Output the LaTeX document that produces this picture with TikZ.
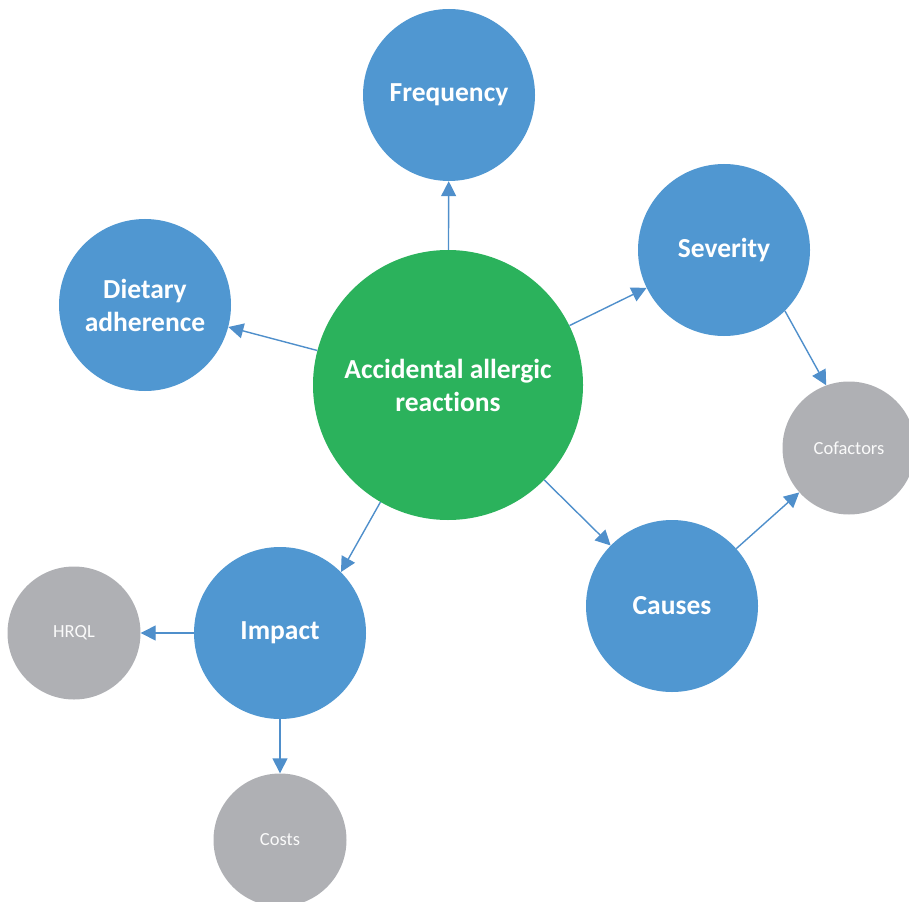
\documentclass[tikz,border=0pt]{standalone}
\usepackage{fontspec}
\setmainfont{Carlito}[Ligatures={NoCommon}]
\usepackage{tikz}
\usetikzlibrary{arrows.meta}

\definecolor{topicblue}{HTML}{5097D1}
\definecolor{maingreen}{HTML}{2BB25C}
\definecolor{detailgray}{HTML}{AFB0B4}
\definecolor{linkblue}{HTML}{4F8FCB}

\begin{document}
\begin{tikzpicture}[x=1pt,y=-1pt,
	topic/.style={circle,fill=topicblue,minimum size=172pt,inner sep=0pt,text=white,align=center,font=\fontsize{27.5}{33}\selectfont\bfseries},
	main/.style={topic,fill=maingreen,minimum size=270pt},
	detail/.style={circle,fill=detailgray,minimum size=133pt,inner sep=0pt,text=white!94!detailgray,font=\fontsize{18.5}{22}\selectfont},
	link/.style={draw=linkblue,line width=1.4pt,-{Triangle[length=15pt,width=15pt]}}]

\useasboundingbox (0,0) rectangle (909,901); % page frame

% Centre bubble
\node[main] (ACC) at (448,385) {Accidental allergic\\reactions};

% Topic bubbles
\node[topic] (FREQ) at (449,95) {Frequency};
\node[topic] (SEV) at (724,250) {Severity};
\node[topic] (DIET) at (145,305) {Dietary\\adherence};
\node[topic] (IMP) at (280,633) {Impact};
\node[topic] (CAUS) at (672,606) {Causes};

% Detail bubbles
\node[detail] (COF) at (849,448) {Cofactors};
\node[detail] (HRQL) at (74,633) {HRQL};
\node[detail] (COST) at (280,840) {Costs};

% Links
\draw[link] (ACC) -- (FREQ);
\draw[link] (ACC) -- (SEV);
\draw[link] (ACC) -- (DIET);
\draw[link] (ACC.240) -- (IMP.45);
\draw[link] (ACC) -- (CAUS);
\draw[link] (SEV.-45) -- (COF.110);
\draw[link] (CAUS) -- (COF);
\draw[link] (IMP) -- (HRQL);
\draw[link] (IMP) -- (COST);

\end{tikzpicture}
\end{document}
